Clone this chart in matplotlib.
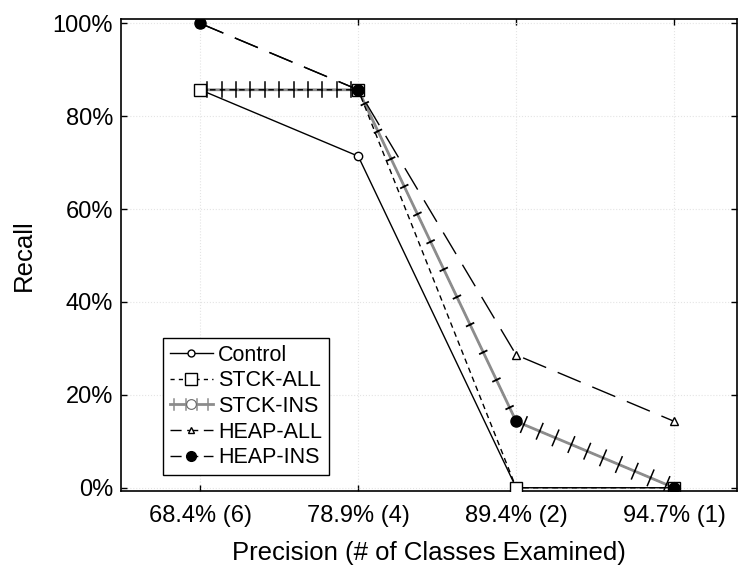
import matplotlib
matplotlib.use("Agg")
import matplotlib.pyplot as plt
from matplotlib import patheffects

plt.rcParams['font.family'] = ['Liberation Sans', 'DejaVu Sans']

categories = ['68.4% (6)', '78.9% (4)', '89.4% (2)', '94.7% (1)']
control = [85.7, 71.4, 0.0, 0.0]
stck_all = [85.7, 85.7, 0.0, 0.0]
stck_ins = [85.7, 85.7, 14.3, 0.0]
heap_all = [100.0, 85.7, 28.6, 14.3]
heap_ins = [100.0, 85.7, 14.3, 0.0]
yticks = [0, 20, 40, 60, 80, 100]
ytick_labels = ['0%', '20%', '40%', '60%', '80%', '100%']

x = list(range(len(categories)))

fig = plt.figure(figsize=(7.44, 5.65), dpi=100, facecolor='white')
ax = fig.add_axes([0.163, 0.131, 0.828, 0.835])

ax.grid(True, color='#e4e4e4', linestyle=':', linewidth=0.8)
ax.set_axisbelow(True)

long_dash = (0, (18, 9))

ax.plot(x, heap_all, color='black', linestyle=long_dash, linewidth=1.0,
        marker='^', markersize=6, markerfacecolor='white', markeredgecolor='black',
        label='HEAP-ALL', zorder=3)

# heap-ins line sits under the grey stck-ins line, its dots on top
ax.plot(x, heap_ins, color='black', linestyle=long_dash, linewidth=1.0, zorder=2.2)

# stck-ins: grey line with black ticks across it
def ticks(sp, ln=0.55, lw=1.1):
    return [patheffects.TickedStroke(spacing=sp, angle=90, length=ln, linewidth=lw),
            patheffects.TickedStroke(spacing=sp, angle=-90, length=ln, linewidth=lw)]

ax.plot(x, stck_ins, color='#8c8c8c', linewidth=2.0, zorder=2.5)
# flat/gentle parts get full ticks, the steep drop only faint ones
ax.plot(x[0:2], stck_ins[0:2], color='black', linewidth=1.0, zorder=2.6,
        path_effects=ticks(10))
ax.plot(x[1:3], stck_ins[1:3], color='black', linewidth=1.0, zorder=2.6,
        path_effects=ticks(22, 0.12, 1.3))
ax.plot(x[2:4], stck_ins[2:4], color='black', linewidth=1.0, zorder=2.6,
        path_effects=ticks(12, 0.5))

ax.plot(x, control, color='black', linestyle='-', linewidth=1.0,
        marker='o', markersize=6, markerfacecolor='white', markeredgecolor='black',
        label='Control', zorder=3)
ax.plot(x, stck_all, color='black', linestyle=(0, (4, 3)), linewidth=1.0,
        marker='s', markersize=9, markerfacecolor='white', markeredgecolor='black',
        label='STCK-ALL', zorder=3.2)
ax.plot(x, heap_ins, linestyle='none',
        marker='o', markersize=8, markerfacecolor='black', markeredgecolor='black',
        label='HEAP-INS', zorder=3.4)

# legend proxies in the reference order
h_control = plt.Line2D([], [], color='black', linewidth=1.0, marker='o', markersize=5,
                       markerfacecolor='white')
h_stck_all = plt.Line2D([], [], color='black', linestyle=(0, (3, 3)), linewidth=1.0,
                        marker='s', markersize=8, markerfacecolor='white')
h_stck_ins_line = plt.Line2D([], [], color='#8c8c8c', linewidth=2.0,
                             path_effects=[patheffects.Normal()] + ticks(7))
h_stck_ins_mark = plt.Line2D([], [], linestyle='none', marker='o', markersize=7,
                             markerfacecolor='white', markeredgecolor='#666666',
                             markeredgewidth=0.8)
h_heap_all = plt.Line2D([], [], color='black', linestyle=(0, (8, 4)), linewidth=1.0,
                        marker='^', markersize=5, markerfacecolor='white')
h_heap_ins = plt.Line2D([], [], color='black', linestyle=(0, (8, 4)), linewidth=1.0,
                        marker='o', markersize=7, markerfacecolor='black')
leg = ax.legend([h_control, h_stck_all, (h_stck_ins_line, h_stck_ins_mark), h_heap_all, h_heap_ins],
                ['Control', 'STCK-ALL', 'STCK-INS', 'HEAP-ALL', 'HEAP-INS'],
                loc='lower left', bbox_to_anchor=(0.068, 0.034), fontsize=15.5,
                fancybox=False, framealpha=1, edgecolor='black',
                handlelength=2.0, handletextpad=0.25, labelspacing=0.22,
                borderpad=0.3, borderaxespad=0)
leg.get_frame().set_linewidth(1.0)

ax.set_xlim(-0.5, 3.4)
ax.set_ylim(-0.7, 100.9)
ax.set_xticks(x)
ax.set_xticklabels(categories)
ax.set_yticks(yticks)
ax.set_yticklabels(ytick_labels)
ax.tick_params(direction='in', length=4, width=1, labelsize=17,
               top=True, right=True)
ax.tick_params(axis='x', pad=10)
ax.tick_params(axis='y', pad=6)
for s in ax.spines.values():
    s.set_linewidth(1.2)

ax.set_xlabel('Precision (# of Classes Examined)', fontsize=18.5, labelpad=10)
ax.set_ylabel('Recall', fontsize=18.5, labelpad=12)

plt.savefig('out.png', dpi=100, facecolor='white')
